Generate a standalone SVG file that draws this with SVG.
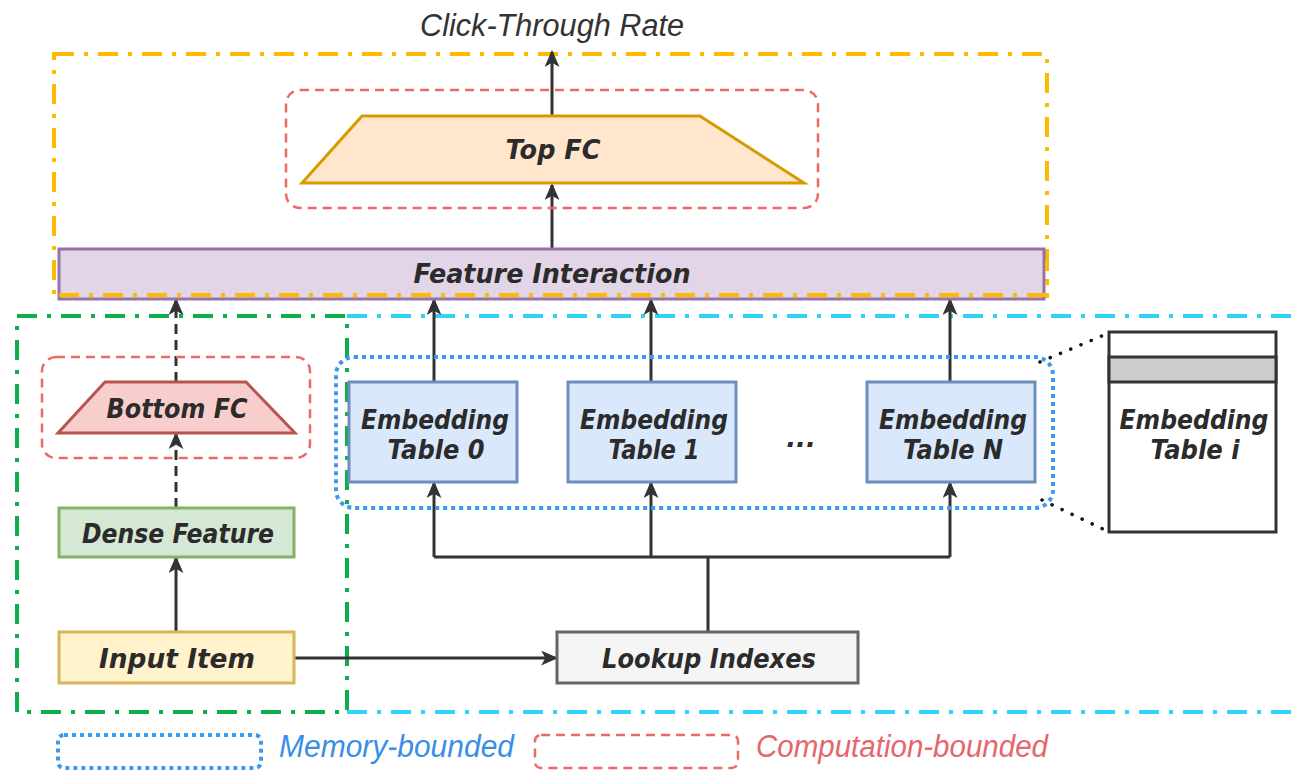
<svg xmlns="http://www.w3.org/2000/svg" width="1292" height="771" viewBox="0 0 1292 771">
  <style>
    .lbl { font-family: "DejaVu Sans", Verdana, sans-serif; font-weight: bold; font-style: italic; font-size: 26px; fill: #2b2b2b; text-anchor: middle; }
    .thin { font-family: "Liberation Sans", Arial, sans-serif; font-style: italic; font-size: 31px; }
    .conn { fill: none; stroke: #333333; stroke-width: 3; }
    .dashed { stroke-dasharray: 10 6; }
    .comp { fill: none; stroke: #EA6B66; stroke-width: 2.5; stroke-dasharray: 9 6; }
    .mem { fill: none; stroke: #3D98F0; stroke-width: 4; stroke-dasharray: 4 4; }
    .dashdot { fill: none; stroke-width: 4; stroke-dasharray: 20 10 4 10; }
  </style>
  <defs>
    <marker id="arrow" viewBox="0 0 16 14" refX="14" refY="7" markerWidth="17" markerHeight="15" markerUnits="userSpaceOnUse" orient="auto">
      <path d="M0,0 L16,7 L0,14 L4,7 Z" fill="#333333"/>
    </marker>
  </defs>

  <rect width="1292" height="771" fill="#ffffff"/>

  <!-- region frames -->
  <g id="regions">
    <rect class="dashdot" x="54" y="54" width="993" height="242" stroke="#FFB900"/>
    <path class="dashdot" d="M347,316 H1292 M347,712 H1292" stroke="#2ED3F7"/>
    <rect class="dashdot" x="17" y="316" width="330" height="396" stroke="#0BAF4B"/>
  </g>

  <!-- connectors -->
  <g id="connectors">
    <line class="conn" x1="552" y1="116" x2="552" y2="52" marker-end="url(#arrow)"/>
    <line class="conn" x1="552" y1="249" x2="552" y2="185" marker-end="url(#arrow)"/>
    <line class="conn dashed" x1="176" y1="382" x2="176" y2="300" marker-end="url(#arrow)"/>
    <line class="conn dashed" x1="176" y1="508" x2="176" y2="434" marker-end="url(#arrow)"/>
    <line class="conn" x1="176" y1="632" x2="176" y2="558" marker-end="url(#arrow)"/>
    <line class="conn" x1="294" y1="658" x2="556" y2="658" marker-end="url(#arrow)"/>
    <path class="conn" d="M708,632 V557 M434,557 H950"/>
    <line class="conn" x1="434" y1="557" x2="434" y2="483" marker-end="url(#arrow)"/>
    <line class="conn" x1="651" y1="557" x2="651" y2="483" marker-end="url(#arrow)"/>
    <line class="conn" x1="950" y1="557" x2="950" y2="483" marker-end="url(#arrow)"/>
    <line class="conn" x1="434" y1="382" x2="434" y2="300" marker-end="url(#arrow)"/>
    <line class="conn" x1="651" y1="382" x2="651" y2="300" marker-end="url(#arrow)"/>
    <line class="conn" x1="950" y1="382" x2="950" y2="300" marker-end="url(#arrow)"/>
    <path d="M1040,362 L1109,333 M1042,500 L1107,531" fill="none" stroke="#111" stroke-width="3.5" stroke-dasharray="0.1 11" stroke-linecap="round"/>
  </g>

  <text class="thin" x="552" y="36" text-anchor="middle" fill="#333333" font-size="32" textLength="264" lengthAdjust="spacingAndGlyphs">Click-Through Rate</text>

  <g id="top-fc">
    <rect class="comp" x="286" y="90" width="532" height="118" rx="14"/>
    <polygon points="362,116 700,116 804,183 302,183" fill="#FFE6CC" stroke="#D79B00" stroke-width="3"/>
    <text class="lbl" x="553" y="159" textLength="95" lengthAdjust="spacingAndGlyphs">Top FC</text>
  </g>

  <g id="feature-interaction">
    <rect x="59" y="249" width="985" height="50" fill="#E1D5E7" stroke="#9673A6" stroke-width="3"/>
    <path class="dashdot" d="M59,295 H1047 V260" stroke="#FFB900"/>
    <text class="lbl" x="552" y="283" textLength="277" lengthAdjust="spacingAndGlyphs">Feature Interaction</text>
  </g>

  <g id="bottom-fc">
    <rect class="comp" x="42" y="357" width="268" height="101" rx="14"/>
    <polygon points="105,382 246,382 295,433 58,433" fill="#F8CECC" stroke="#B85450" stroke-width="3"/>
    <text class="lbl" x="177" y="418" textLength="141" lengthAdjust="spacingAndGlyphs">Bottom FC</text>
  </g>

  <g id="dense-feature">
    <rect x="59" y="508" width="235" height="49" fill="#D5E8D4" stroke="#82B366" stroke-width="3"/>
    <text class="lbl" x="178" y="543" textLength="192" lengthAdjust="spacingAndGlyphs">Dense Feature</text>
  </g>

  <g id="input-item">
    <rect x="59" y="632" width="235" height="51" fill="#FFF2CC" stroke="#D6B656" stroke-width="3"/>
    <text class="lbl" x="177" y="668" textLength="156" lengthAdjust="spacingAndGlyphs">Input Item</text>
  </g>

  <g id="lookup-indexes">
    <rect x="557" y="632" width="301" height="51" fill="#F5F5F5" stroke="#666666" stroke-width="3"/>
    <text class="lbl" x="709" y="668" textLength="214" lengthAdjust="spacingAndGlyphs">Lookup Indexes</text>
  </g>

  <g id="embedding-group">
    <rect class="mem" x="336" y="357" width="717" height="151" rx="18"/>
  </g>

  <g id="embedding-table-0">
    <rect x="349" y="382" width="168" height="100" fill="#DAE8FC" stroke="#6C8EBF" stroke-width="3"/>
    <text class="lbl" x="435" y="429" textLength="148" lengthAdjust="spacingAndGlyphs">Embedding</text>
    <text class="lbl" x="436" y="459" textLength="97" lengthAdjust="spacingAndGlyphs">Table 0</text>
  </g>

  <g id="embedding-table-1">
    <rect x="568" y="382" width="168" height="100" fill="#DAE8FC" stroke="#6C8EBF" stroke-width="3"/>
    <text class="lbl" x="654" y="429" textLength="148" lengthAdjust="spacingAndGlyphs">Embedding</text>
    <text class="lbl" x="654" y="459" textLength="91" lengthAdjust="spacingAndGlyphs">Table 1</text>
  </g>

  <text class="lbl" x="801" y="447" font-size="30">...</text>

  <g id="embedding-table-n">
    <rect x="867" y="382" width="168" height="100" fill="#DAE8FC" stroke="#6C8EBF" stroke-width="3"/>
    <text class="lbl" x="953" y="429" textLength="148" lengthAdjust="spacingAndGlyphs">Embedding</text>
    <text class="lbl" x="953" y="459" textLength="100" lengthAdjust="spacingAndGlyphs">Table N</text>
  </g>

  <g id="embedding-table-i">
    <rect x="1109" y="332" width="167" height="200" fill="#ffffff" stroke="#333333" stroke-width="3"/>
    <rect x="1109" y="357" width="167" height="25" fill="#CCCCCC" stroke="#333333" stroke-width="3"/>
    <text class="lbl" x="1194" y="429" textLength="149" lengthAdjust="spacingAndGlyphs">Embedding</text>
    <text class="lbl" x="1195" y="459" textLength="89" lengthAdjust="spacingAndGlyphs">Table i</text>
  </g>

  <g id="legend">
    <rect class="mem" x="58" y="735" width="203" height="33" rx="6"/>
    <text class="thin" x="279" y="757" fill="#3A8EE6" textLength="235" lengthAdjust="spacingAndGlyphs">Memory-bounded</text>
    <rect class="comp" x="535" y="735" width="203" height="33" rx="6"/>
    <text class="thin" x="756" y="757" fill="#E5666B" textLength="292" lengthAdjust="spacingAndGlyphs">Computation-bounded</text>
  </g>
</svg>
